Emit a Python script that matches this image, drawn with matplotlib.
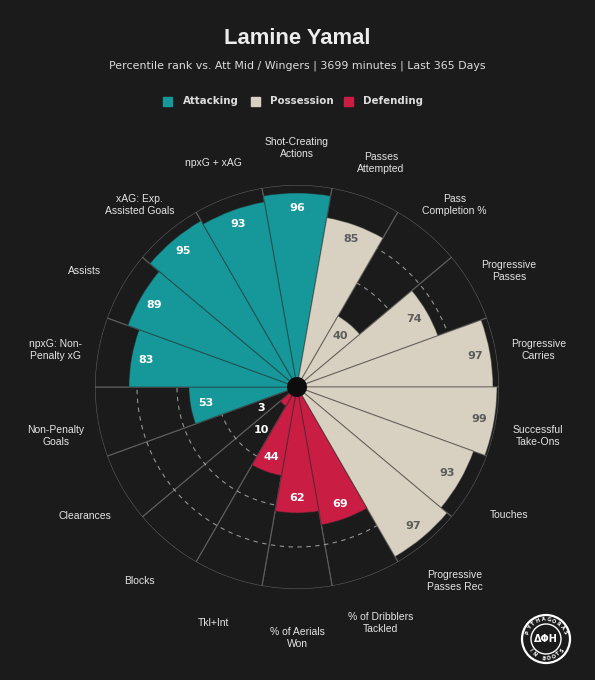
import numpy as np
import matplotlib
matplotlib.use("Agg")
import matplotlib.pyplot as plt
from matplotlib.patches import Rectangle, Ellipse
from matplotlib.transforms import offset_copy

# ---------------- data ----------------
params = ["Shot-Creating\nActions", "Passes\nAttempted", "Pass\nCompletion %",
          "Progressive\nPasses", "Progressive\nCarries", "Successful\nTake-Ons",
          "Touches", "Progressive\nPasses Rec", "% of Dribblers\nTackled",
          "% of Aerials\nWon", "Tkl+Int", "Blocks", "Clearances",
          "Non-Penalty\nGoals", "npxG: Non-\nPenalty xG", "Assists",
          "xAG: Exp.\nAssisted Goals", "npxG + xAG"]
values = [96, 85, 40, 74, 97, 99, 93, 97, 69, 62, 44, 10, 3, 53, 83, 89, 95, 93]
groups = ["Attacking", "Possession", "Possession", "Possession", "Possession",
          "Possession", "Possession", "Possession", "Defending", "Defending",
          "Defending", "Defending", "Defending", "Attacking", "Attacking",
          "Attacking", "Attacking", "Attacking"]
legend_names = ["Attacking", "Possession", "Defending"]

title = "Lamine Yamal"
subtitle = "Percentile rank vs. Att Mid / Wingers | 3699 minutes | Last 365 Days"

# ---------------- style ----------------
BG = "#1b1b1b"
COL = {"Attacking": "#16989a", "Possession": "#d8d0c0", "Defending": "#c91d44"}
TXT = {"Attacking": "#ffffff", "Possession": "#5c5c5c", "Defending": "#ffffff"}
W, H = 595, 680

fig = plt.figure(figsize=(W / 100, H / 100), dpi=100, facecolor=BG)
cx, cy, R = 297, 387, 202
ax = fig.add_axes([(cx - R) / W, (H - cy - R) / H, 2 * R / W, 2 * R / H],
                  projection="polar")
ax.set_facecolor(BG)
ax.set_theta_zero_location("N")
ax.set_theta_direction(-1)
ax.set_ylim(0, 101)
ax.grid(False)
ax.set_xticks([])
ax.set_yticks([])
ax.spines["polar"].set_visible(False)

n = len(values)
theta = np.arange(n) * 2 * np.pi / n
width = 2 * np.pi / n

# background slices
ax.bar(theta, [101] * n, width=width, bottom=0, color=BG,
       edgecolor="#5e5e5e", linewidth=0.8, zorder=1)
# dashed rings
tt = np.linspace(0, 2 * np.pi, 600)
for r in [40, 60, 80]:
    ax.plot(tt, [r] * len(tt), ls=(0, (4, 4)), color="#bcbcbc", lw=0.8,
            alpha=0.75, zorder=2)

# value bars
colors = [COL[g] for g in groups]
ax.bar(theta, [v + 1 for v in values], width=width, bottom=0, color=colors,
       edgecolor=(0.15, 0.15, 0.15, 0.45), linewidth=0.8, zorder=3)

# centre hole
ax.bar(0, 5, width=2 * np.pi, bottom=0, color="#0d0d0d", edgecolor="none",
       zorder=6)

# value labels
for t, v, g in zip(theta, values, groups):
    if v >= 30:
        r = v + 1 - 7.5
        c = TXT[g]
    else:
        r = v + 18
        c = "#ffffff"
    ax.text(t, r, str(v), ha="center", va="center", fontsize=8,
            fontweight="bold", color=c, family="DejaVu Sans", zorder=7)

# parameter labels (shifted slightly down, as in the reference)
lab_tr = offset_copy(ax.transData, fig=fig, x=0, y=-6, units="dots")
for t, p in zip(theta, params):
    ax.text(t, 122.5, p, ha="center", va="center", fontsize=7.5,
            color="#e4e4e4", family="Liberation Sans", linespacing=1.25,
            clip_on=False, transform=lab_tr)

# titles
fig.text(0.5, 1 - 39 / H, title, ha="center", va="center", fontsize=15.8,
         fontweight="bold", color="#ececec", family="Liberation Sans")
fig.text(0.5, 1 - 66 / H, subtitle, ha="center", va="center", fontsize=7.9,
         color="#dcdcdc", family="DejaVu Sans")

# legend
leg_sq_x = [163, 251, 344]
leg_tx_x = [183, 270, 363]
for name, sx, tx in zip(legend_names, leg_sq_x, leg_tx_x):
    fig.add_artist(Rectangle((sx / W, 1 - 106 / H), 9 / W, 9 / H,
                             transform=fig.transFigure, color=COL[name]))
    fig.text(tx / W, 1 - 101 / H, name, ha="left", va="center", fontsize=7.4,
             fontweight="bold", color="#dcdcdc", family="DejaVu Sans")

# logo
lx, ly, lr = 546, 639, 24
fig.add_artist(Ellipse((lx / W, 1 - ly / H), 2 * lr / W, 2 * lr / H,
                       transform=fig.transFigure, fill=False, ec="white", lw=1.6))
fig.add_artist(Ellipse((lx / W, 1 - ly / H), 30 / W, 30 / H,
                       transform=fig.transFigure, fill=False, ec="white", lw=1.0))


def arc_text(s, ang0, ang1, rad, top=True):
    angs = np.linspace(ang0, ang1, len(s))
    for ch, a in zip(s, angs):
        x = lx + rad * np.cos(np.radians(a))
        y = ly - rad * np.sin(np.radians(a))
        rot = a - 90 if top else a + 90
        fig.text(x / W, 1 - y / H, ch, ha="center", va="center", fontsize=3.6,
                 fontweight="bold", color="white", rotation=rot,
                 family="DejaVu Sans")


arc_text("PYTHAGORAS", 160, 20, 19.5, top=True)
arc_text("IN BOOTS", 215, 325, 19.5, top=False)
fig.text(lx / W, 1 - ly / H, "ΔΦH", ha="center", va="center", fontsize=7,
         fontweight="bold", color="white", family="DejaVu Sans")

fig.savefig("out.png", dpi=100, facecolor=BG)
